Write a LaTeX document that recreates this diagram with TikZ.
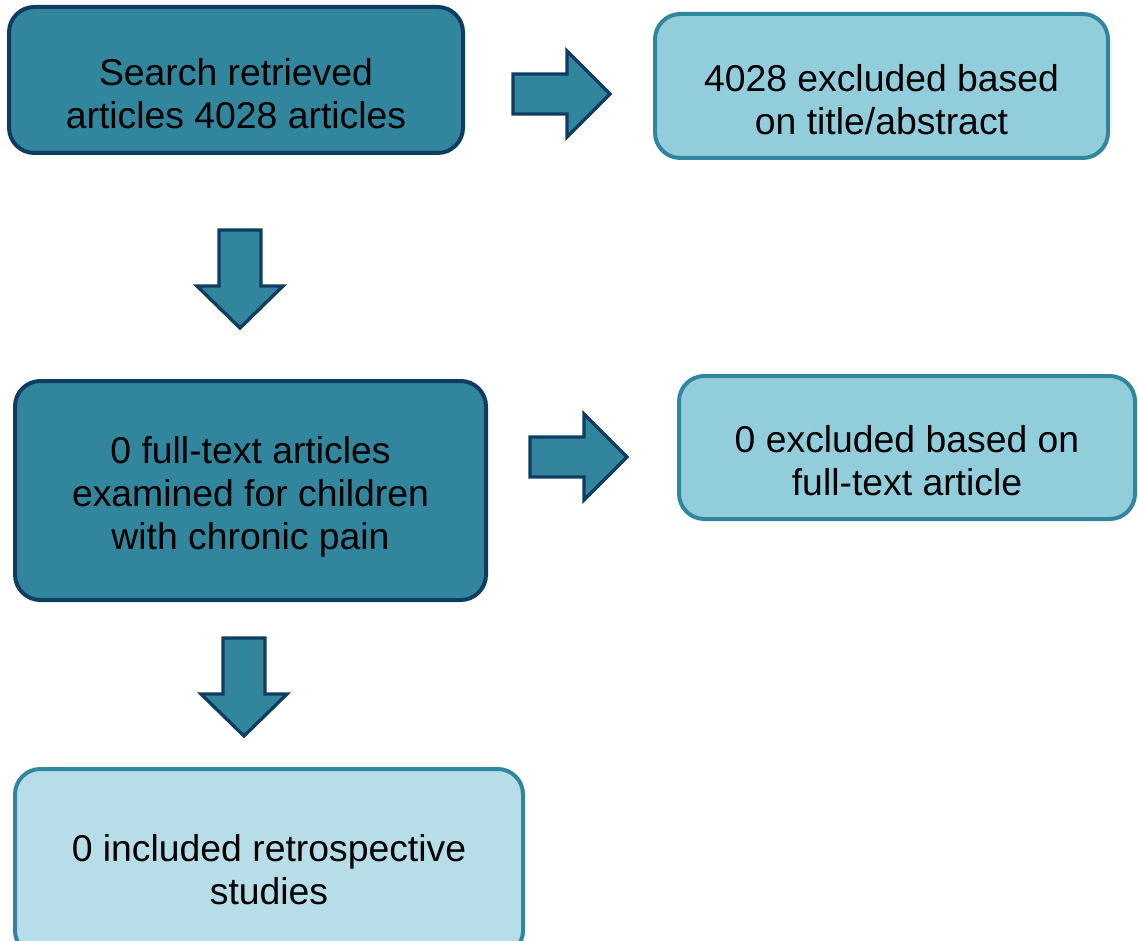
\documentclass[tikz,border=0pt]{standalone}
\usepackage{fontspec}
\setmainfont{Liberation Sans}
\definecolor{tealdark}{HTML}{31859C}
\definecolor{navyline}{HTML}{0F3D62}
\definecolor{teallight}{HTML}{92CDDC}
\definecolor{tealpale}{HTML}{B7DEE8}
\tikzset{
  darkbox/.style={rectangle, rounded corners=19pt, draw=navyline, fill=tealdark, line width=3pt},
  lightbox/.style={rectangle, rounded corners=19pt, draw=tealdark, fill=teallight, line width=3pt},
  boxtext/.style={align=center, inner sep=0pt, font=\fontsize{28pt}{32.25pt}\selectfont},
  blockarrow/.style={draw=navyline, fill=tealdark, line width=2.5pt, miter limit=10},
  pics/rarrow/.style={code={\draw[blockarrow] (0,-20)--(54,-20)--(54,-43)--(97,0)--(54,43)--(54,20)--(0,20)--cycle;}},
  pics/darrow/.style={code={\draw[blockarrow] (-21,0)--(-21,56)--(-43,56)--(0,98)--(43,56)--(21,56)--(21,0)--cycle;}}
}
\begin{document}
\begin{tikzpicture}[x=0.75pt,y=-0.75pt]
\useasboundingbox (0,0) rectangle (1138,941);
\clip (0,0) rectangle (1138,941);
%\draw[help lines, step=100] (0,0) grid (1138,941);
\node[darkbox, minimum width=340.5pt, minimum height=109.5pt](search) at (236,80) {};
\node[lightbox, minimum width=339.75pt, minimum height=108pt](excl1) at (881.5,86) {};
\node[darkbox, minimum width=353.25pt, minimum height=164.25pt](fulltext) at (250.5,490.5) {};
\node[lightbox, minimum width=342pt, minimum height=107.25pt](excl2) at (907,447.5) {};
\node[lightbox, fill=tealpale, minimum width=381pt, minimum height=140.25pt](incl) at (269,862.5) {};

\node[boxtext](searcht) at ([yshift=-10pt]search.center) {Search retrieved\\articles 4028 articles};
\node[boxtext](excl1t) at ([yshift=-10pt]excl1.center) {4028 excluded based\\on title/abstract};
\node[boxtext](fulltextt) at ([yshift=-4.5pt]fulltext.center) {0 full-text articles\\examined for children\\with chronic pain};
\node[boxtext](excl2t) at ([yshift=-10pt]excl2.center) {0 excluded based on\\full-text article};
\node[boxtext](inclt) at ([yshift=-5pt]incl.center) {0 included retrospective\\studies};

\pic (arr1) at (513,94) {rarrow};
\pic (arr2) at (240,230) {darrow};
\pic (arr3) at (530,457) {rarrow};
\pic (arr4) at (244,638) {darrow};
\end{tikzpicture}
\end{document}
